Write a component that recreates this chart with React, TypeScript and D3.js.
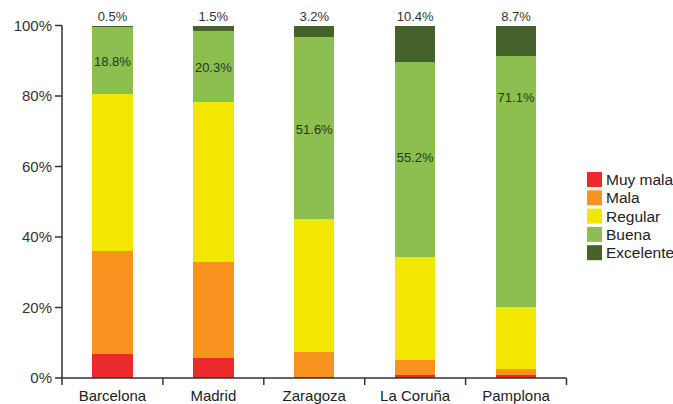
import React, { useEffect, useRef } from "react";
import * as d3 from "d3";

const cities = ["Barcelona", "Madrid", "Zaragoza", "La Coruña", "Pamplona"];
const levels = ["Muy mala", "Mala", "Regular", "Buena", "Excelente"];
const colors = ["#ec2a2e", "#f7931e", "#f3e600", "#8cbf4f", "#44622a"];
const muyMala = [6.7, 5.8, 0.4, 0.9, 0.9];
const mala = [29.3, 27.2, 7.1, 4.2, 1.7];
const regular = [44.7, 45.2, 37.7, 29.3, 17.6];
const buena = [18.8, 20.3, 51.6, 55.2, 71.1];
const excelente = [0.5, 1.5, 3.2, 10.4, 8.7];
const buenaLabelAt = [89.9, 88.2, 70.6, 62.7, 79.7];
const yTicks = [0, 20, 40, 60, 80, 100];

const W = 673;
const H = 404;
const M = { left: 62, right: 106, top: 25.5, bottom: 26 };

export default function App() {
  const ref = useRef<SVGSVGElement>(null);
  useEffect(() => {
    const svg = d3.select(ref.current);
    svg.selectAll("*").remove();
    const series = [muyMala, mala, regular, buena, excelente];
    const rows = cities.map((c, i) => {
      const r: any = { city: c };
      levels.forEach((l, j) => (r[l] = series[j][i]));
      return r;
    });
    const stacked = d3.stack().keys(levels)(rows);
    const x = d3.scaleBand().domain(cities).range([M.left, W - M.right - 0.5]).paddingInner(0.6).paddingOuter(0.3);
    const y = d3.scaleLinear().domain([0, 100]).range([H - M.bottom, M.top]);
    const font = "'Liberation Sans', Arial, sans-serif";

    const g = svg.append("g").attr("shape-rendering", "crispEdges");
    stacked.forEach((s, j) => {
      g.selectAll(null)
        .data(s)
        .enter()
        .append("rect")
        .attr("x", (d: any) => x(d.data.city)!)
        .attr("width", x.bandwidth())
        .attr("y", (d) => y(d[1]))
        .attr("height", (d) => Math.max(0, y(d[0]) - y(d[1])))
        .attr("fill", colors[j]);
    });

    const tg = svg.append("g");
    // top labels (Excelente)
    tg.selectAll(null)
      .data(cities)
      .enter()
      .append("text")
      .attr("x", (c) => x(c)! + x.bandwidth() / 2)
      .attr("y", y(100) - 4.5)
      .attr("text-anchor", "middle")
      .attr("font-family", font)
      .attr("font-size", 13)
      .attr("fill", "#333")
      .text((c, i) => excelente[i].toFixed(1) + "%");

    // Buena labels
    tg.selectAll(null)
      .data(cities)
      .enter()
      .append("text")
      .attr("x", (c) => x(c)! + x.bandwidth() / 2)
      .attr("y", (c, i) => y(buenaLabelAt[i]))
      .attr("dy", "0.35em")
      .attr("text-anchor", "middle")
      .attr("font-family", font)
      .attr("font-size", 13)
      .attr("fill", "#24381a")
      .text((c, i) => buena[i].toFixed(1) + "%");

    // y axis
    const ya = svg.append("g").attr("transform", `translate(${M.left},0)`);
    ya.append("line").attr("x1", 0).attr("x2", 0).attr("y1", y(0)).attr("y2", y(100)).attr("stroke", "#333").attr("stroke-width", 1.5);
    yTicks.forEach((t) => {
      ya.append("line").attr("x1", -7).attr("x2", 0).attr("y1", y(t)).attr("y2", y(t)).attr("stroke", "#333").attr("stroke-width", 1.5);
      ya.append("text")
        .attr("x", -10)
        .attr("y", y(t))
        .attr("dy", "0.35em")
        .attr("text-anchor", "end")
        .attr("font-family", font)
        .attr("font-size", 15)
        .attr("fill", "#333")
        .text(t + "%");
    });

    // x axis
    const xa = svg.append("g");
    const x0 = M.left;
    const x1 = W - M.right - 0.5;
    xa.append("line").attr("x1", x0).attr("x2", x1).attr("y1", y(0)).attr("y2", y(0)).attr("stroke", "#333").attr("stroke-width", 1.5);
    const bounds = d3.range(cities.length + 1).map((i) => x0 + i * (x1 - x0) / cities.length);
    bounds.forEach((b) => {
      xa.append("line").attr("x1", b).attr("x2", b).attr("y1", y(0)).attr("y2", y(0) + 7).attr("stroke", "#333").attr("stroke-width", 1.5);
    });
    cities.forEach((c) => {
      xa.append("text")
        .attr("x", x(c)! + x.bandwidth() / 2)
        .attr("y", y(0) + 23)
        .attr("text-anchor", "middle")
        .attr("font-family", font)
        .attr("font-size", 15)
        .attr("fill", "#222")
        .text(c);
    });

    // legend
    const lg = svg.append("g").attr("transform", "translate(587,172)");
    levels.forEach((l, i) => {
      lg.append("rect").attr("x", 0).attr("y", i * 18.3).attr("width", 15).attr("height", 15).attr("fill", colors[i]);
      lg.append("text")
        .attr("x", 19)
        .attr("y", i * 18.3 + 7.5)
        .attr("dy", "0.35em")
        .attr("font-family", font)
        .attr("font-size", 15.5)
        .attr("fill", "#222")
        .text(l);
    });
  }, []);
  return (
    <svg ref={ref} width={W} height={H} style={{ position: "absolute", left: 0, top: 0, background: "#fff" }} />
  );
}
